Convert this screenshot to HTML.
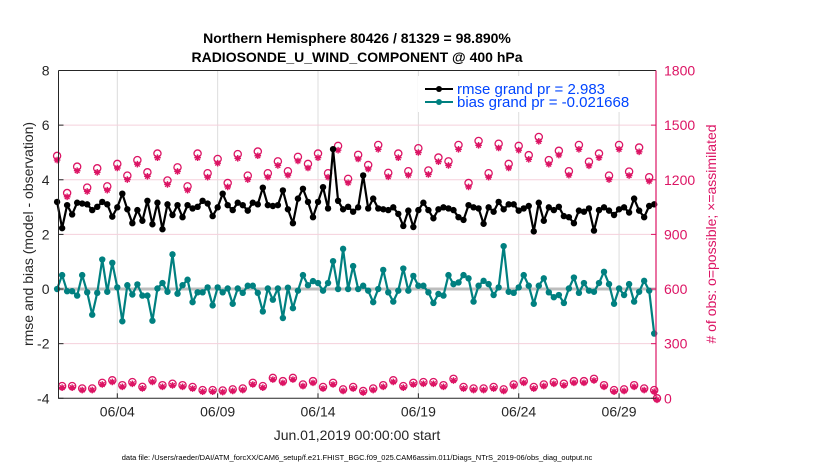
<!DOCTYPE html>
<html><head><meta charset="utf-8"><style>
body{margin:0;background:#fff;width:830px;height:470px;overflow:hidden;font-family:"Liberation Sans",Arial,sans-serif}
svg text{font-family:"Liberation Sans",Arial,sans-serif}
</style></head><body>
<svg id="chart" width="830" height="470" xmlns="http://www.w3.org/2000/svg">
<text x="357" y="43" text-anchor="middle" font-size="14" font-weight="bold">Northern Hemisphere 80426 / 81329 = 98.890%</text>
<text x="357" y="62" text-anchor="middle" font-size="14" font-weight="bold">RADIOSONDE_U_WIND_COMPONENT @ 400 hPa</text>
<text transform="translate(33,234) rotate(-90)" text-anchor="middle" font-size="14" fill="#262626">rmse and bias (model - observation)</text>
<text transform="translate(716,234) rotate(-90)" text-anchor="middle" font-size="14" fill="#dc1464"># of obs: o=possible; ×=assimilated</text>
<text x="357" y="440" text-anchor="middle" font-size="14" fill="#262626">Jun.01,2019 00:00:00 start</text>
<text x="357" y="460" text-anchor="middle" font-size="7.5" fill="#000">data file: /Users/raeder/DAI/ATM_forcXX/CAM6_setup/f.e21.FHIST_BGC.f09_025.CAM6assim.011/Diags_NTrS_2019-06/obs_diag_output.nc</text>
<g id="grid"></g><g id="marks"></g><g id="axes"></g>
<g>
<rect x="418" y="76" width="230" height="36" fill="#fff"/>
<line x1="425" y1="89" x2="453" y2="89" stroke="#000" stroke-width="2"/>
<circle cx="439" cy="89" r="3" fill="#000"/>
<text x="457" y="94" font-size="15" fill="#0044ff">rmse grand pr = 2.983</text>
<line x1="425" y1="102" x2="453" y2="102" stroke="#008080" stroke-width="2"/>
<circle cx="439" cy="102" r="3" fill="#008080"/>
<text x="457" y="107" font-size="15" fill="#0044ff">bias grand pr = -0.021668</text>
</g>
</svg>
<script>
const rmse=[3.19,2.23,3.07,2.73,3.16,3.13,3.1,2.89,3.01,3.19,3.1,2.65,2.99,3.49,2.92,2.41,2.89,2.5,3.23,2.37,3.16,2.19,3.1,2.71,3.07,2.63,3.07,2.95,3.01,3.23,3.13,2.67,2.99,3.49,3.07,2.89,3.16,3.07,2.87,3.16,
3.1,3.71,3.07,3.04,3.07,3.61,2.92,2.41,3.31,3.67,3.19,2.63,3.19,3.73,2.95,5.12,3.23,2.92,3.01,2.83,2.99,4.16,2.95,3.31,2.95,2.92,2.89,2.99,2.75,2.31,2.87,2.27,2.89,3.16,2.89,2.59,2.92,2.99,2.95,2.89,
2.63,2.53,3.07,2.99,2.95,2.39,2.99,2.83,3.19,2.92,3.1,3.1,2.87,2.95,3.04,2.11,3.16,2.5,2.99,2.89,3.01,2.67,2.63,2.41,2.87,2.83,2.95,2.14,2.89,2.99,2.87,2.71,2.92,2.99,2.8,3.31,2.87,2.63,3.04,3.1];
const bias=[0,0.51,-0.08,-0.08,-0.24,0.51,-0.12,-0.94,-0.14,1.08,-0.1,0.96,0.06,-1.18,0.14,-0.2,0.17,-0.24,-0.24,-1.16,0.02,0.22,-0.1,1.27,-0.17,0.14,0.34,-0.48,-0.12,-0.12,0.06,-0.6,0.06,-0.12,0.02,-0.54,0.02,-0.14,0.12,0.12,
-0.14,-0.82,0.02,-0.39,0.02,-1.06,0.05,-0.7,-0.06,0.51,0.14,0.29,0.22,-0.06,0.22,1.02,0,1.47,0,0.84,0,0.12,-0.06,-0.48,0,0.7,-0.12,-0.46,-0.06,0.75,-0.06,0.48,0.12,0.12,-0.12,-0.51,-0.18,-0.24,0.51,0.18,
0.24,0.51,0.39,-0.46,0.12,0.3,0.18,-0.22,0.06,1.57,-0.1,-0.14,0.06,0.51,0.12,-0.54,0.12,0.39,-0.12,-0.3,-0.22,-0.51,0.02,0.42,-0.14,0.22,-0.06,-0.1,0.22,0.63,0.18,-0.54,0.02,-0.22,0.18,-0.46,-0.1,0.3,-0.06,-1.63];
const obsHigh=[1331,1127,1272,1157,1263,1164,1287,1223,1308,1241,1344,1196,1268,1164,1344,1236,1314,1182,1341,1223,1355,
1236,1301,1247,1326,1287,1344,1236,1386,1205,1337,1281,1391,1238,1344,1247,1373,1251,1322,1301,1391,
1182,1413,1236,1398,1287,1386,1335,1435,1308,1359,1247,1391,1299,1344,1223,1391,1245,1377,1214];
const obsLow=[67,67,54,54,85,99,72,89,63,99,72,80,72,62,45,45,43,49,54,85,67,112,94,112,76,94,62,85,49,62,
40,54,72,99,67,85,89,89,72,107,62,54,54,62,49,76,94,62,76,89,80,94,94,107,72,45,49,72,54,45,0];
const assimRatio=0.989;
const leftTicks=[-4,-2,0,2,4,6,8];
const rightTicks=[0,300,600,900,1200,1500,1800];
const xTickDays=[3,8,13,18,23,28];
const xTickLabels=["06/04","06/09","06/14","06/19","06/24","06/29"];

const X0=58.5,X1=656,Y0=70.5,Y1=398.3,D0=0.07,D1=29.84;
const xs=d=>X0+(d-D0)/(D1-D0)*(X1-X0);
const yl=v=>Y1-(v+4)/12*(Y1-Y0);
const yr=c=>Y1-c/1800*(Y1-Y0);
const dayOf=i=>i*0.25;
const NS="http://www.w3.org/2000/svg";
function mk(tag,attrs,parent){const e=document.createElementNS(NS,tag);for(const k in attrs)e.setAttribute(k,attrs[k]);parent.appendChild(e);return e;}
const grid=document.getElementById('grid'),marks=document.getElementById('marks'),axes=document.getElementById('axes');

xTickDays.forEach((d,k)=>{
  const g=mk('line',{x1:xs(d),x2:xs(d),y1:Y0,y2:Y1,stroke:'#dcdcdc','stroke-width':1},grid);
  
  
  const t=mk('line',{x1:xs(d),x2:xs(d),y1:Y1,y2:Y1-5,stroke:'#262626','stroke-width':1},axes);
  
  
  const l=mk('text',{x:xs(d),y:Y1+18,'text-anchor':'middle','font-size':14,fill:'#262626'},axes);
  l.textContent=xTickLabels[k];
  
  
});
rightTicks.forEach(c=>{
  if(c>0&&c<1800){const g=mk('line',{x1:X0,x2:X1,y1:yr(c),y2:yr(c),stroke:'#f5d0dc','stroke-width':1},grid);
  
  }
  const t=mk('line',{x1:X1,x2:X1-5,y1:yr(c),y2:yr(c),stroke:'#dc1464','stroke-width':1},axes);
  
  
  const l=mk('text',{x:X1+8,y:yr(c)+5,'font-size':14,fill:'#dc1464'},axes);
  l.textContent=c;
  
  
});
leftTicks.forEach(v=>{
  const t=mk('line',{x1:X0,x2:X0+5,y1:yl(v),y2:yl(v),stroke:'#262626','stroke-width':1},axes);
  
  
  const l=mk('text',{x:X0-9,y:yl(v)+5,'text-anchor':'end','font-size':14,fill:'#262626'},axes);
  l.textContent=v;
  
  
});
const zl=mk('line',{x1:X0,x2:X1,y1:yl(0),y2:yl(0),stroke:'#bdbdbd','stroke-width':3},grid);



function obsMarker(d,c,name){
  const g=mk('g',{},marks);
  
  
  const x=xs(d),y=yr(c),ya=yr(c*assimRatio)+1.5;
  mk('circle',{cx:x,cy:y,r:3.6,fill:'none',stroke:'#dc1464','stroke-width':1.3},g);
  let p='';for(let a=0;a<4;a++){const an=a*Math.PI/4;const dx=3.3*Math.cos(an),dy=3.3*Math.sin(an);p+=`M${x-dx},${ya-dy}L${x+dx},${ya+dy}`;}
  mk('path',{d:p,stroke:'#dc1464','stroke-width':1.4},g);
}
obsHigh.forEach((c,k)=>obsMarker(dayOf(2*k),c,'obs-count-high'));
obsLow.forEach((c,k)=>obsMarker(k<60?dayOf(2*k+1):D1+0.05,c,'obs-count-low'));

function series(arr,color,name){
  const pts=arr.map((v,i)=>xs(dayOf(i))+','+yl(v)).join(' ');
  const pl=mk('polyline',{points:pts,fill:'none',stroke:color,'stroke-width':2.2,'stroke-linejoin':'round'},marks);
  
  
  arr.forEach((v,i)=>{const c=mk('circle',{cx:xs(dayOf(i)),cy:yl(v),r:3.2,fill:color},marks);
    
    });
}
series(bias,'#008080','bias');
series(rmse,'#000','rmse');

const ax=mk('path',{d:`M${X0},${Y0}V${Y1}H${X1}M${X0},${Y0}H${X1}`,fill:'none',stroke:'#262626','stroke-width':1},axes);


const ra=mk('line',{x1:X1,x2:X1,y1:Y0,y2:Y1,stroke:'#dc1464','stroke-width':1.2},axes);


</script>
</body></html>
